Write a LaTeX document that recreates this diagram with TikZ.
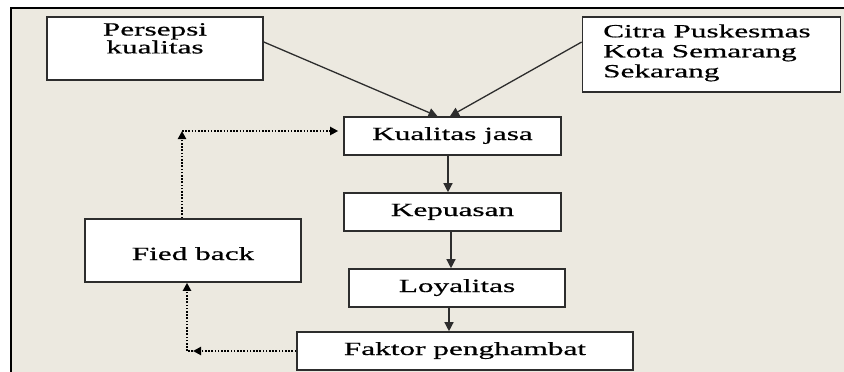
\documentclass[tikz,border=0pt]{standalone}
\usepackage{fontspec}
\setmainfont{Liberation Serif}[FakeStretch=1.68,FakeBold=0.6]
\usetikzlibrary{arrows.meta}
\definecolor{bgbeige}{RGB}{236,233,224}
\definecolor{edgegray}{RGB}{45,45,45}
\begin{document}
\begin{tikzpicture}[x=1pt,y=-1pt,
  box/.style={draw=edgegray, line width=1.6pt, fill=white, rectangle, inner sep=0pt,
    font=\fontsize{18.6}{20}\selectfont, text height=12pt, text depth=4pt},
  txt/.style={inner sep=0pt, font=\fontsize{18.6}{20}\selectfont},
  arr/.style={draw=edgegray, line width=1.3pt, -{Triangle[length=9pt,width=9pt]}},
  dotarr/.style={draw=black, line width=2pt, dash pattern=on 1.6pt off 1.6pt,
    -{Triangle[length=8pt,width=8pt]}},
  dotline/.style={draw=black, line width=2pt, dash pattern=on 1.6pt off 1.6pt}]
\useasboundingbox (0,0) rectangle (844,372);
\fill[white] (0,0) rectangle (844,372);
\fill[bgbeige] (11,8) rectangle (844,372);
\draw[line width=2pt, black] (11,372) -- (11,8) -- (844,8);

% boxes
\node[box, minimum width=216pt, minimum height=63pt] (p) at (155,48.5) {};
\node[txt, anchor=base] (p1) at (155,35.5) {Persepsi};
\node[txt, anchor=base] (p2) at (155,53.4) {kualitas};

\node[box, minimum width=258pt, minimum height=75pt] (c) at (711.5,54.5) {};
\node[txt, anchor=base west] (c1) at (603,37.3) {Citra Puskesmas};
\node[txt, anchor=base west] (c2) at (603,57.3) {Kota Semarang};
\node[txt, anchor=base west] (c3) at (603,77.3) {Sekarang};

\node[box, minimum width=217pt, minimum height=38pt] (k) at (452.5,136) {Kualitas jasa};
\node[box, minimum width=217pt, minimum height=38pt] (kp) at (452.5,212) {Kepuasan};
\node[box, minimum width=216pt, minimum height=38pt] (l) at (457,288) {Loyalitas};
\node[box, minimum width=336pt, minimum height=38pt] (f) at (465,351) {Faktor penghambat};
\node[box, minimum width=216.5pt, minimum height=63pt, text height=19pt, text depth=0pt] (fb) at (193,250.5) {Fied back};

% solid arrows
\draw[arr] ([yshift=6.5pt]p.east) -- ([xshift=-15pt]k.north);
\draw[arr] ([yshift=12.5pt]c.west) -- ([xshift=-2.5pt]k.north);
\draw[arr] ([xshift=-4.5pt]k.south) -- ([xshift=-4.5pt]kp.north);
\draw[arr] ([xshift=-1.5pt]kp.south) -- ([xshift=-6pt]l.north);
\draw[arr] ([xshift=-8pt]l.south) -- ([xshift=-16pt]f.north);

% dotted feedback arrows
\coordinate (t1) at (182,131);
\coordinate (t2) at (187,351);
\draw[dotarr] ([xshift=-11pt]fb.north) -- (t1);
\draw[dotarr] (t1) -- ([xshift=-5pt,yshift=5pt]k.west);
\draw[dotarr] (f.west) -- ([xshift=6pt]t2);
\draw[dotline] ([xshift=6pt]t2) -- (t2);
\draw[dotarr] (t2) -- (fb.south -| t2);
\end{tikzpicture}
\end{document}
